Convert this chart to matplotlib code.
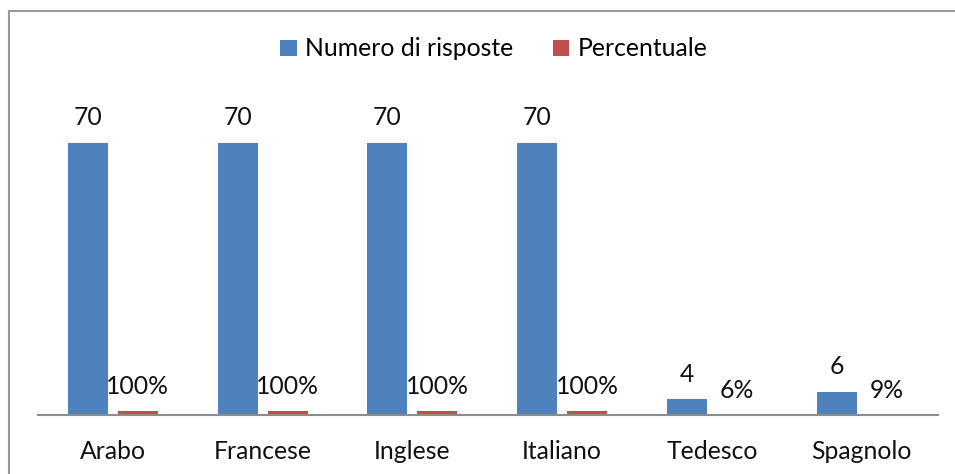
import matplotlib
import matplotlib.pyplot as plt
import numpy as np
from matplotlib.patches import Rectangle

matplotlib.use("Agg")

plt.rcParams["font.family"] = ["Lato", "DejaVu Sans"]

languages = ["Arabo", "Francese", "Inglese", "Italiano", "Tedesco", "Spagnolo"]
risposte = [70, 70, 70, 70, 4, 6]
percentuale = [1.00, 1.00, 1.00, 1.00, 0.06, 0.09]
series_names = ["Numero di risposte", "Percentuale"]

BLUE = "#4F81BD"
RED = "#C0504D"
FS = 17.8

W, H = 955, 474
fig = plt.figure(figsize=(W / 100, H / 100), dpi=100)
fig.patch.set_facecolor("white")

# axes placed in pixel terms: baseline at y=415, x from 38 to 938
bottom_px, top_px = 415, 104
ax = fig.add_axes([38 / W, 1 - bottom_px / H, 900 / W, (bottom_px - top_px) / H])

x = np.arange(len(languages))
bar_w = 40 / 150
offset = 25 / 150

bars1 = ax.bar(x - offset, risposte, width=bar_w, color=BLUE, label=series_names[0])
bars2 = ax.bar(x + offset, percentuale, width=bar_w, color=RED, label=series_names[1])

for bar, value in zip(bars1, risposte):
    ax.annotate(str(value), (bar.get_x() + bar.get_width() / 2, bar.get_height()),
                xytext=(0, 18), textcoords="offset points", ha="center", va="center",
                fontsize=FS, color="#111111")
for bar, value in zip(bars2, percentuale):
    ax.annotate(f"{value:.0%}", (bar.get_x() + bar.get_width() / 2, bar.get_height()),
                xytext=(0, 17.5), textcoords="offset points", ha="center", va="center",
                fontsize=FS, color="#111111")

ax.set_ylim(0, 80)
ax.set_xticks(x)
ax.set_xticklabels(languages, fontsize=FS, color="#111111")
ax.tick_params(axis="x", length=0, pad=18)
ax.set_yticks([])
for side in ("top", "right", "left"):
    ax.spines[side].set_visible(False)
ax.spines["bottom"].set_color("#8c8c8c")
ax.spines["bottom"].set_linewidth(1.5)
ax.set_xlim(-0.5, len(languages) - 0.5 + 0.01)

fig.legend(loc="center", bbox_to_anchor=(494 / W, 1 - 49 / H), ncol=2, frameon=False,
           fontsize=FS, handlelength=0.65, handleheight=0.65, handletextpad=0.35,
           columnspacing=1.6)

# outer chart border (left and top visible)
fig.patches.append(Rectangle((9 / W, -0.1), 1.2, 1.1 - 11 / H,
                             transform=fig.transFigure, fill=False,
                             edgecolor="#9a9a9a", linewidth=1.5))

fig.savefig("out.png", dpi=100)
